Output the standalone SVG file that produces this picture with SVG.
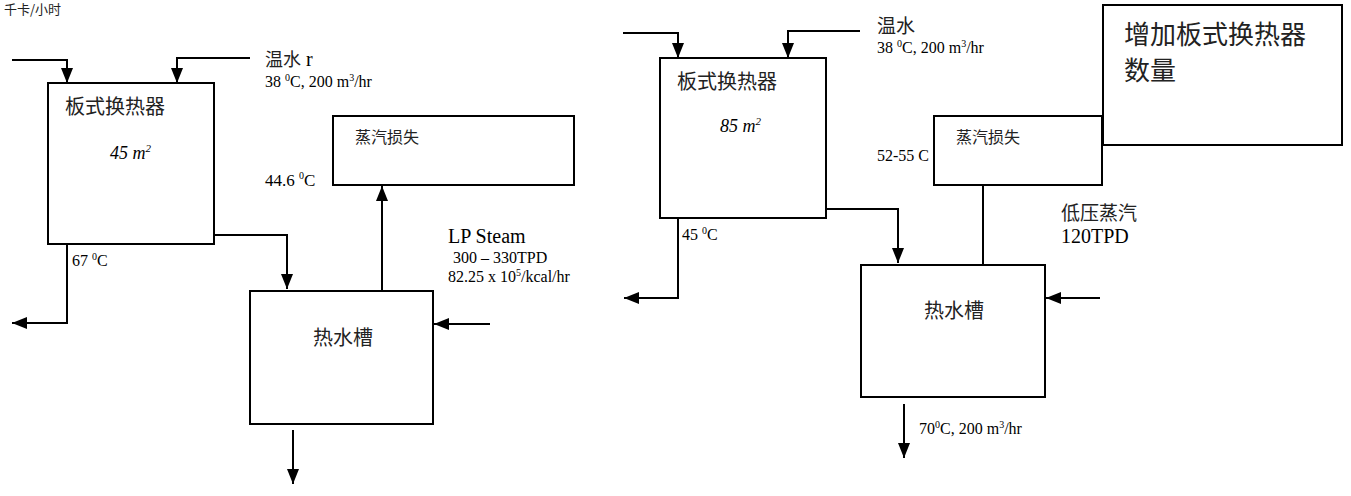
<svg xmlns="http://www.w3.org/2000/svg" width="1351" height="496" viewBox="0 0 1351 496">
<style>
.box{fill:#fff;stroke:#000;stroke-width:2}
.ln{fill:none;stroke:#000;stroke-width:2}
.arr{marker-end:url(#ah)}
.cjk{font-family:"Noto Sans CJK SC",sans-serif;fill:#222}
.lat{font-family:"Liberation Serif",serif;fill:#000}
.sm{font-size:16px}
.sup{font-size:10px}
</style>
<defs>
<marker id="ah" markerUnits="userSpaceOnUse" markerWidth="15" markerHeight="12" viewBox="0 0 15 12" refX="15" refY="6" orient="auto">
<path d="M0,0 L15,6 L0,12 z" fill="#000"/>
</marker>
</defs>
<rect width="1351" height="496" fill="#fff"/>
<text class="cjk" x="4" y="14" font-size="13">千卡/小时</text>

<g id="connectors">
<polyline class="ln arr" points="12,60 67,60 67,83"/>
<polyline class="ln arr" points="250,58 177,58 177,83"/>
<polyline class="ln arr" points="67,244 67,323 12,323"/>
<polyline class="ln arr" points="214,235 287,235 287,289"/>
<polyline class="ln arr" points="382,291 382,186"/>
<polyline class="ln arr" points="490,324 434,324"/>
<polyline class="ln arr" points="293,430 293,484"/>

<polyline class="ln arr" points="623,33 678,33 678,58"/>
<polyline class="ln arr" points="860,31 788,31 788,58"/>
<polyline class="ln arr" points="678,218 678,298 624,298"/>
<polyline class="ln arr" points="826,209 898,209 898,263"/>
<polyline class="ln" points="983,185 983,270"/>
<polyline class="ln arr" points="1100,298 1046,298"/>
<polyline class="ln arr" points="904,404 904,458"/>
</g>

<g id="hx1">
<rect class="box" x="48" y="83" width="166" height="161"/>
<text class="cjk" x="65" y="114" font-size="20">板式换热器</text>
<text class="lat" x="110" y="159" font-size="18" font-style="italic">45 m<tspan font-size="11" dy="-7">2</tspan></text>
</g>
<g id="steamloss1">
<rect class="box" x="333" y="116" width="241" height="69"/>
<text class="cjk" x="355" y="143" font-size="16">蒸汽损失</text>
</g>
<g id="tank1">
<rect class="box" x="250" y="291" width="183" height="133"/>
<text class="cjk" x="313" y="345" font-size="20">热水槽</text>
</g>
<g id="labels1">
<text class="cjk" x="265" y="66" font-size="18">温水<tspan class="lat" font-size="20"> r</tspan></text>
<text class="lat sm" x="265" y="87">38 <tspan class="sup" dy="-6">0</tspan><tspan dy="6">C, 200 m</tspan><tspan class="sup" dy="-6">3</tspan><tspan dy="6">/hr</tspan></text>
<text class="lat" x="265" y="186" font-size="17">44.6  <tspan class="sup" dy="-7">0</tspan><tspan dy="7">C</tspan></text>
<text class="lat sm" x="72" y="266">67 <tspan class="sup" dy="-6">0</tspan><tspan dy="6">C</tspan></text>
<text class="lat" x="448" y="243" font-size="20">LP Steam</text>
<text class="lat sm" x="453" y="263">300 – 330TPD</text>
<text class="lat sm" x="448" y="282">82.25 x 10<tspan class="sup" dy="-6">5</tspan><tspan dy="6">/kcal/hr</tspan></text>
</g>

<g id="hx2">
<rect class="box" x="660" y="58" width="166" height="160"/>
<text class="cjk" x="677" y="89" font-size="20">板式换热器</text>
<text class="lat" x="720" y="132" font-size="18" font-style="italic">85 m<tspan font-size="11" dy="-7">2</tspan></text>
</g>
<g id="note2">
<rect class="box" x="1103" y="5" width="239" height="140"/>
<text class="cjk" x="1124" y="44" font-size="26">增加板式换热器</text>
<text class="cjk" x="1124" y="80" font-size="26">数量</text>
</g>
<g id="steamloss2">
<rect class="box" x="934" y="116" width="168" height="69"/>
<text class="cjk" x="956" y="143" font-size="16">蒸汽损失</text>
</g>
<g id="tank2">
<rect class="box" x="861" y="265" width="184" height="132"/>
<text class="cjk" x="924" y="318" font-size="20">热水槽</text>
</g>
<g id="labels2">
<text class="cjk" x="877" y="33" font-size="19">温水</text>
<text class="lat sm" x="877" y="53">38 <tspan class="sup" dy="-6">0</tspan><tspan dy="6">C, 200 m</tspan><tspan class="sup" dy="-6">3</tspan><tspan dy="6">/hr</tspan></text>
<text class="lat sm" x="877" y="161">52-55 C</text>
<text class="lat sm" x="682" y="240">45 <tspan class="sup" dy="-6">0</tspan><tspan dy="6">C</tspan></text>
<text class="cjk" x="1061" y="220" font-size="19">低压蒸汽</text>
<text class="lat" x="1061" y="243" font-size="20">120TPD</text>
<text class="lat sm" x="919" y="434">70<tspan class="sup" dy="-6">0</tspan><tspan dy="6">C, 200 m</tspan><tspan class="sup" dy="-6">3</tspan><tspan dy="6">/hr</tspan></text>
</g>
</svg>
